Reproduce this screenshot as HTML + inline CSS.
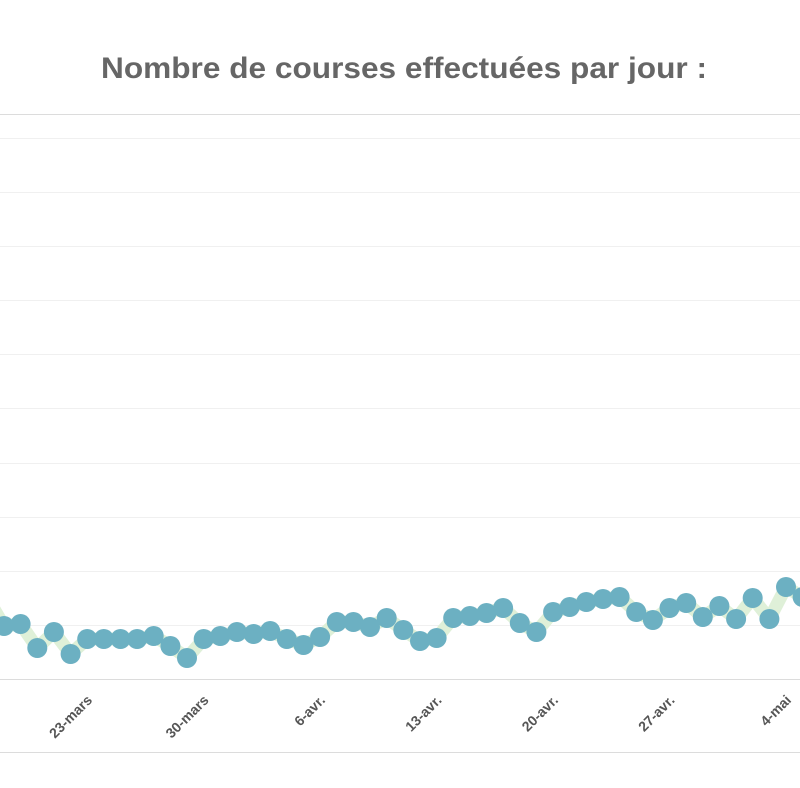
<!DOCTYPE html>
<html>
<head>
<meta charset="utf-8">
<style>
html,body{margin:0;padding:0;background:#fff;}
svg{display:block;}
</style>
</head>
<body>
<svg width="800" height="788" viewBox="0 0 800 788" xmlns="http://www.w3.org/2000/svg">
<rect width="800" height="788" fill="#fff"/>
<text x="404" y="78" text-anchor="middle" font-family="Liberation Sans, Arial, sans-serif" font-weight="bold" font-size="30" fill="#666666" textLength="606" lengthAdjust="spacingAndGlyphs">Nombre de courses effectuées par jour :</text>
<line x1="0" y1="114.5" x2="800" y2="114.5" stroke="#dcdcdc" stroke-width="1"/>
<g stroke="#f0f0f0" stroke-width="1">
<line x1="0" y1="138.5" x2="800" y2="138.5"/>
<line x1="0" y1="192.5" x2="800" y2="192.5"/>
<line x1="0" y1="246.5" x2="800" y2="246.5"/>
<line x1="0" y1="300.5" x2="800" y2="300.5"/>
<line x1="0" y1="354.5" x2="800" y2="354.5"/>
<line x1="0" y1="408.5" x2="800" y2="408.5"/>
<line x1="0" y1="463.5" x2="800" y2="463.5"/>
<line x1="0" y1="517.5" x2="800" y2="517.5"/>
<line x1="0" y1="571.5" x2="800" y2="571.5"/>
<line x1="0" y1="625.5" x2="800" y2="625.5"/>
</g>
<line x1="0" y1="679.5" x2="800" y2="679.5" stroke="#dcdcdc" stroke-width="1"/>
<line x1="0" y1="752.5" x2="800" y2="752.5" stroke="#dcdcdc" stroke-width="1"/>
<polyline fill="none" stroke="#dff0d8" stroke-width="13" stroke-linejoin="round" points="-13,597 4,626 20.6,624 37.3,648 53.9,632 70.6,654 87.2,639 103.8,639 120.5,639 137.1,639 153.7,636 170.4,646 187,658 203.7,639 220.3,636 236.9,632 253.6,634 270.2,631 286.8,639 303.5,645 320.1,637 336.8,622 353.4,622 370,627 386.7,618 403.3,630 420,641 436.6,638 453.2,618 469.9,616 486.5,613 503.1,608 519.8,623 536.4,632 553.1,612 569.7,607 586.3,602 603,599 619.6,597 636.2,612 652.9,620 669.5,608 686.2,603 702.8,617 719.4,606 736.1,619 752.7,598 769.4,619 786,587 802.6,597 819,585"/>
<g fill="#6cb0c2">
<circle cx="4" cy="626" r="10"/>
<circle cx="20.6" cy="624" r="10"/>
<circle cx="37.3" cy="648" r="10"/>
<circle cx="53.9" cy="632" r="10"/>
<circle cx="70.6" cy="654" r="10"/>
<circle cx="87.2" cy="639" r="10"/>
<circle cx="103.8" cy="639" r="10"/>
<circle cx="120.5" cy="639" r="10"/>
<circle cx="137.1" cy="639" r="10"/>
<circle cx="153.7" cy="636" r="10"/>
<circle cx="170.4" cy="646" r="10"/>
<circle cx="187" cy="658" r="10"/>
<circle cx="203.7" cy="639" r="10"/>
<circle cx="220.3" cy="636" r="10"/>
<circle cx="236.9" cy="632" r="10"/>
<circle cx="253.6" cy="634" r="10"/>
<circle cx="270.2" cy="631" r="10"/>
<circle cx="286.8" cy="639" r="10"/>
<circle cx="303.5" cy="645" r="10"/>
<circle cx="320.1" cy="637" r="10"/>
<circle cx="336.8" cy="622" r="10"/>
<circle cx="353.4" cy="622" r="10"/>
<circle cx="370" cy="627" r="10"/>
<circle cx="386.7" cy="618" r="10"/>
<circle cx="403.3" cy="630" r="10"/>
<circle cx="420" cy="641" r="10"/>
<circle cx="436.6" cy="638" r="10"/>
<circle cx="453.2" cy="618" r="10"/>
<circle cx="469.9" cy="616" r="10"/>
<circle cx="486.5" cy="613" r="10"/>
<circle cx="503.1" cy="608" r="10"/>
<circle cx="519.8" cy="623" r="10"/>
<circle cx="536.4" cy="632" r="10"/>
<circle cx="553.1" cy="612" r="10"/>
<circle cx="569.7" cy="607" r="10"/>
<circle cx="586.3" cy="602" r="10"/>
<circle cx="603" cy="599" r="10"/>
<circle cx="619.6" cy="597" r="10"/>
<circle cx="636.2" cy="612" r="10"/>
<circle cx="652.9" cy="620" r="10"/>
<circle cx="669.5" cy="608" r="10"/>
<circle cx="686.2" cy="603" r="10"/>
<circle cx="702.8" cy="617" r="10"/>
<circle cx="719.4" cy="606" r="10"/>
<circle cx="736.1" cy="619" r="10"/>
<circle cx="752.7" cy="598" r="10"/>
<circle cx="769.4" cy="619" r="10"/>
<circle cx="786" cy="587" r="10"/>
<circle cx="802.6" cy="597" r="10"/>
</g>
<g font-family="Liberation Sans, Arial, sans-serif" font-weight="bold" font-size="14" fill="#555555" text-anchor="end">
<text x="93" y="701" transform="rotate(-45 93 701)">23-mars</text>
<text x="209.5" y="701" transform="rotate(-45 209.5 701)">30-mars</text>
<text x="326" y="701" transform="rotate(-45 326 701)">6-avr.</text>
<text x="442.5" y="701" transform="rotate(-45 442.5 701)">13-avr.</text>
<text x="559" y="701" transform="rotate(-45 559 701)">20-avr.</text>
<text x="675.5" y="701" transform="rotate(-45 675.5 701)">27-avr.</text>
<text x="792" y="701" transform="rotate(-45 792 701)">4-mai</text>
</g>
</svg>
</body>
</html>
